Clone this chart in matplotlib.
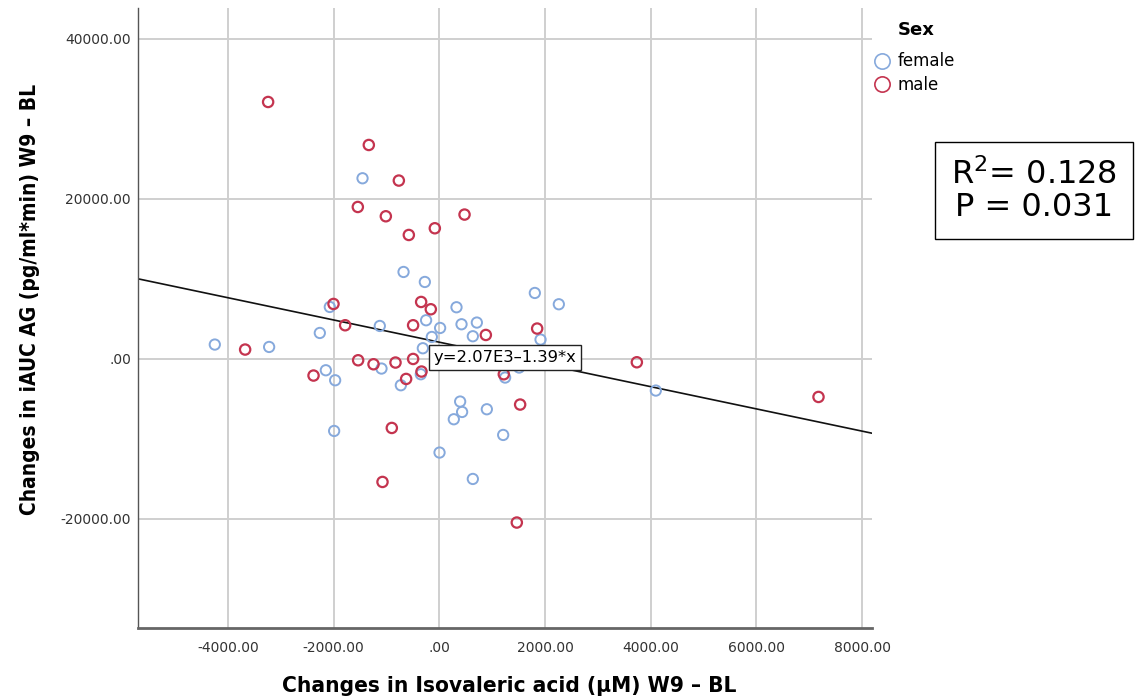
"""Isovaleric acid vs iAUC AG changes, scatter by sex with linear fit"""
import matplotlib
matplotlib.use('Agg')
import matplotlib.pyplot as plt
from matplotlib.ticker import FuncFormatter
from matplotlib.lines import Line2D

# values
female_x = [-4248, -3220, -2261, -2147, -1971, -2072, -1990, -1453, -1126, -1094,
            -728, -677, -350, -312, -274, -250, -142, 15, 4, 325,
            420, 394, 431, 274, 634, 634, 710, 899, 1208, 1245,
            1510, 1807, 1915, 2261, 4096]
female_y = [1775, 1475, 3225, -1438, -2688, 6475, -9025, 22563, 4100, -1225,
            -3313, 10850, -1938, 1313, 9600, 4813, 2725, 3850, -11725, 6438,
            4313, -5350, -6650, -7563, 2813, -15025, 4525, -6313, -9525, -2350,
            -1100, 8225, 2400, 6813, -3975]
male_x = [-3239, -3674, -2380, -2002, -1782, -1542, -1536, -1334, -1245, -1075,
          -1012, -899, -829, -766, -628, -577, -496, -496, -344, -337,
          -161, -85, 477, 880, 1220, 1466, 1529, 1851, 3737, 7174]
male_y = [32100, 1150, -2100, 6850, 4188, 18975, -188, 26725, -688, -15400,
          17813, -8650, -475, 22275, -2525, 15475, 4188, -25, 7100, -1600,
          6188, 16313, 18025, 2975, -1938, -20475, -5725, 3775, -438, -4775]

fit_intercept = 2070
fit_slope = -1.39
fit_label = 'y=2.07E3\u20131.39*x'
stats_text = 'R$^2$= 0.128\nP = 0.031'

x_ticks = [-4000, -2000, 0, 2000, 4000, 6000, 8000]
y_ticks = [-20000, 0, 20000, 40000]
x_lim = (-5700, 8180)
y_lim = (-33700, 43800)

BLUE = '#86a9dc'
RED = '#c4344f'
GRID = '#cfcfcf'

fig = plt.figure(figsize=(11.39, 6.99), dpi=100)
ax = fig.add_axes([0.1212, 0.1011, 0.6441, 0.8869])

ax.set_xlim(*x_lim)
ax.set_ylim(*y_lim)
ax.set_xticks(x_ticks)
ax.set_yticks(y_ticks)


def fmt(v, pos):
    s = f'{v:.2f}'
    return '.00' if s in ('0.00', '-0.00') else s


ax.xaxis.set_major_formatter(FuncFormatter(fmt))
ax.yaxis.set_major_formatter(FuncFormatter(fmt))
ax.tick_params(axis='both', length=0, labelsize=10, labelcolor='#333333')
ax.tick_params(axis='x', pad=9)
ax.tick_params(axis='y', pad=5)

ax.grid(True, color=GRID, linewidth=1.4)
ax.set_axisbelow(True)
for side in ('top', 'right'):
    ax.spines[side].set_visible(False)
ax.spines['left'].set_color('#555555')
ax.spines['left'].set_linewidth(1.0)
ax.spines['bottom'].set_color('#666666')
ax.spines['bottom'].set_linewidth(2.0)

# fit line over the full x range
ax.plot(list(x_lim), [fit_intercept + fit_slope * v for v in x_lim],
        color='#111111', linewidth=1.2, zorder=2)

ax.scatter(female_x, female_y, s=55, facecolors='none', edgecolors=BLUE,
           linewidths=1.4, zorder=3)
ax.scatter(male_x, male_y, s=55, facecolors='none', edgecolors=RED,
           linewidths=1.6, zorder=4)

ax.text(1240, 190, fit_label, fontsize=11.8, ha='center', va='center', zorder=5,
        bbox=dict(boxstyle='square,pad=0.3', facecolor='white',
                  edgecolor='#222222', linewidth=1.0))

fig.text(0.447, 0.018, 'Changes in Isovaleric acid (\u00b5M) W9 \u2013 BL',
         fontsize=16.2, fontweight='bold', fontstretch='condensed',
         ha='center', va='center')
fig.text(0.026, 0.571, 'Changes in iAUC AG (pg/ml*min) W9 \u2013 BL',
         fontsize=15, fontweight='bold', fontstretch='condensed',
         ha='center', va='center', rotation=90)

# legend
handles = [Line2D([], [], marker='o', linestyle='none', markersize=11,
                  markerfacecolor='none', markeredgecolor=BLUE, markeredgewidth=1.2),
           Line2D([], [], marker='o', linestyle='none', markersize=11,
                  markerfacecolor='none', markeredgecolor=RED, markeredgewidth=1.2)]
fig.legend(handles, ['female', 'male'], loc='upper left',
           bbox_to_anchor=(0.768, 0.925), frameon=False,
           handlelength=0.9, handletextpad=0.45, labelspacing=0.32,
           borderaxespad=0, borderpad=0, fontsize=12)
fig.text(0.788, 0.957, 'Sex', fontsize=13, fontweight='bold',
         ha='left', va='center')

fig.text(0.908, 0.727, stats_text, fontsize=23, ha='center', va='center',
         linespacing=1.05,
         bbox=dict(boxstyle='square,pad=0.5', facecolor='white',
                   edgecolor='black', linewidth=1.0))

fig.savefig('out.png', dpi=100, facecolor='white')
plt.close(fig)
